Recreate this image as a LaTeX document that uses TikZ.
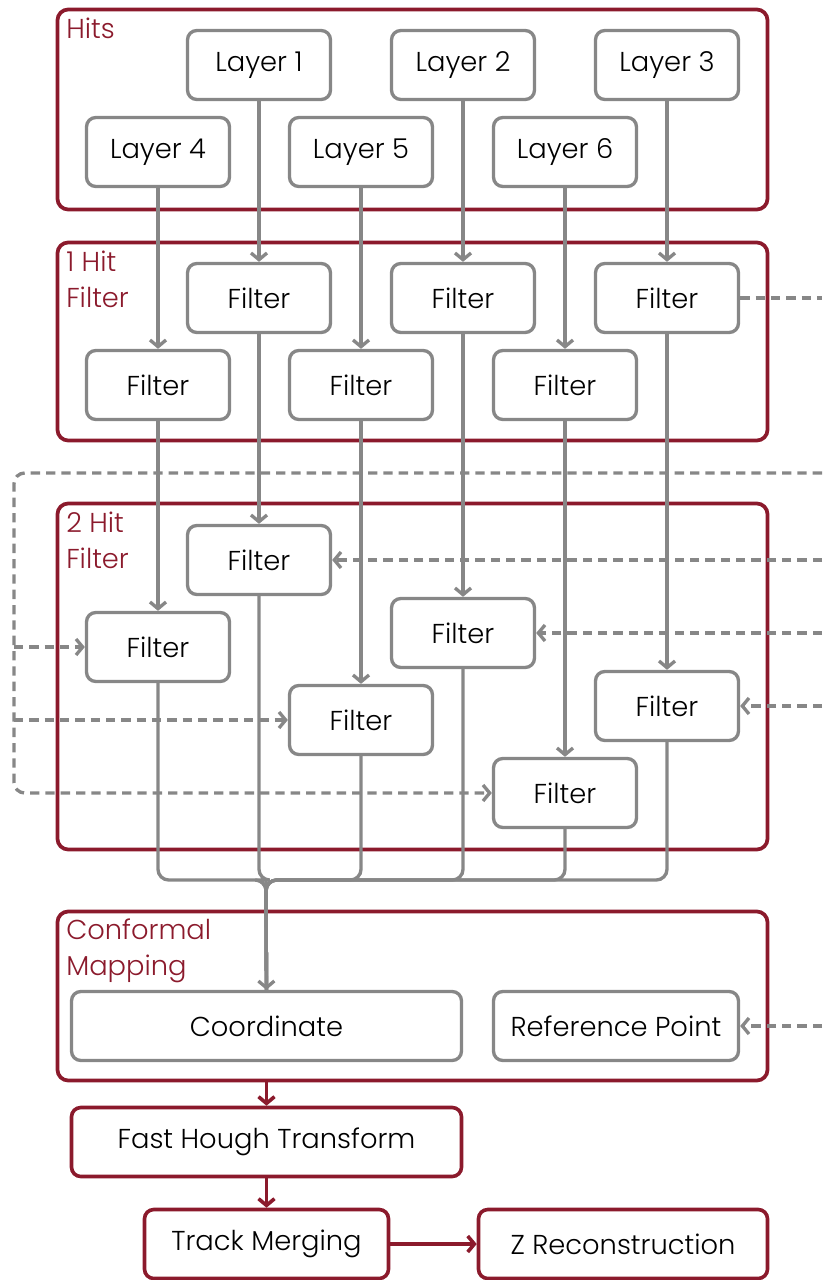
\documentclass[tikz,border=0pt]{standalone}
\usepackage{fontspec}
\setmainfont{Poppins}[UprightFont=* Light]
\usetikzlibrary{arrows.meta}
\definecolor{darkred}{HTML}{8B1A2C}
\definecolor{midgray}{HTML}{878787}

\begin{document}
\begin{tikzpicture}[x=0.75pt,y=-0.75pt,
  my box/.style={
    draw=midgray, line width=2.5pt, rounded corners=7pt, fill=white,
    minimum width=107.25pt, minimum height=51.75pt,
    font=\fontsize{20.5}{24}\selectfont,
  },
  my step/.style={my box, draw=darkred, line width=2.7pt},
  my group/.style={
    draw=darkred, line width=2.8pt, rounded corners=8pt,
    minimum width=532.5pt,
  },
  my title/.style={
    anchor=north west, inner sep=0pt, align=left, text=darkred,
    font=\fontsize{20.5}{27}\selectfont,
  },
  my flow/.style={draw=midgray, line width=2.5pt, -{Straight Barb[length=5pt,width=12pt]}},
  my line/.style={draw=midgray, line width=2.5pt, rounded corners=8pt},
  my dash/.style={my flow, dash pattern=on 7pt off 4.5pt},
  my red/.style={draw=darkred, line width=2.7pt, -{Straight Barb[length=5pt,width=12pt]}},
  ]
  \useasboundingbox (0,0) rectangle (822,1280);
  % groups
  \node [my group, minimum height=150pt] (hits) at (412.5,109.5) {};
  \node [my group, minimum height=148.5pt] (onehit) at (412.5,341.5) {};
  \node [my group, minimum height=259.5pt] (twohit) at (412.5,676.5) {};
  \node [my group, minimum height=126.75pt] (conf) at (412.5,996) {};
  \node [my title] (hitsL) at (66,18) {Hits};
  \node [my title] (onehitL) at (66,251) {1 Hit\\Filter};
  \node [my title] (twohitL) at (66,512) {2 Hit\\Filter};
  \node [my title] (confL) at (66,919) {Conformal\\Mapping};
  % layers
  \node [my box] (l1) at (259,65) {Layer 1};
  \node [my box] (l2) at (463,65) {Layer 2};
  \node [my box] (l3) at (667,65) {Layer 3};
  \node [my box] (l4) at (158,152) {Layer 4};
  \node [my box] (l5) at (361,152) {Layer 5};
  \node [my box] (l6) at (565,152) {Layer 6};
  % 1 hit filters
  \node [my box] (h1) at (259,298) {Filter};
  \node [my box] (h2) at (463,298) {Filter};
  \node [my box] (h3) at (667,298) {Filter};
  \node [my box] (h4) at (158,385) {Filter};
  \node [my box] (h5) at (361,385) {Filter};
  \node [my box] (h6) at (565,385) {Filter};
  % 2 hit filters
  \node [my box] (g1) at (259,560) {Filter};
  \node [my box] (g2) at (463,633) {Filter};
  \node [my box] (g3) at (667,706) {Filter};
  \node [my box] (g4) at (158,647) {Filter};
  \node [my box] (g5) at (361,720) {Filter};
  \node [my box] (g6) at (565,793) {Filter};
  % mapping and after
  \node [my box, minimum width=292.5pt] (coord) at (266.5,1026) {Coordinate};
  \node [my box, minimum width=183.75pt] (ref) at (616,1026) {Reference Point};
  \node [my step, minimum width=292.5pt] (fht) at (266.5,1142) {Fast Hough Transform};
  \node [my step, minimum width=183pt] (merge) at (266.5,1244) {Track Merging};
  \node [my step, minimum width=216.75pt] (zrec) at (623,1244) {Z Reconstruction};

  \foreach \i in {1,...,6} {
    \draw [my flow] (l\i) -- (h\i);
    \draw [my flow] (h\i) -- (g\i);
  }
  \coordinate (join) at (266,880);
  \foreach \i in {1,...,6}
    \draw [my line] (g\i.south) |- (join) -- (coord.north);
  \draw [my flow] (join) -- (coord);
  \draw [my red] (conf.south -| fht.north) -- (fht);
  \draw [my red] (fht) -- (merge);
  \draw [my red] (merge) -- (zrec);

  % dashed feedback
  \coordinate (out) at (822,298);
  \coordinate (back) at (822,473);
  \coordinate (loop) at (14,473);
  \coordinate (in1) at (822,560);
  \coordinate (in2) at (822,633);
  \coordinate (in3) at (822,706);
  \coordinate (inref) at (822,1026);
  \draw [my dash, -] (h3) -- (out);
  \draw [my dash, rounded corners=8pt] (back) -- (loop) |- (g6);
  \draw [my dash] (loop |- g4) -- (g4);
  \draw [my dash] (loop |- g5) -- (g5);
  \draw [my dash] (in1) -- (g1);
  \draw [my dash] (in2) -- (g2);
  \draw [my dash] (in3) -- (g3);
  \draw [my dash] (inref) -- (ref);
  %\draw [my dash] (inref) -- (coord);
\end{tikzpicture}
\end{document}
